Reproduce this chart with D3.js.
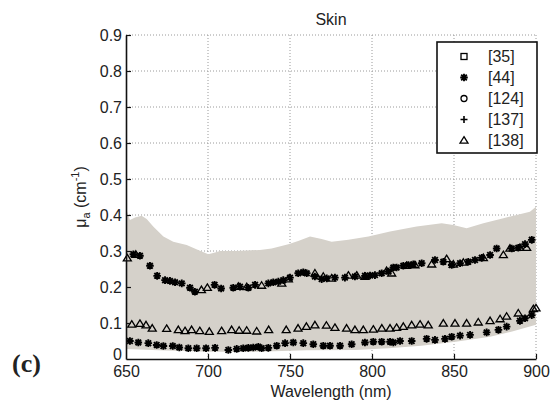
<!DOCTYPE html>
<html>
<head>
<meta charset="utf-8">
<script src="https://cdn.jsdelivr.net/npm/d3@7"></script>
<style>
  body { margin: 0; background: #fff; }
  text { font-family: Arial, "Liberation Sans", sans-serif; fill: #222; }
</style>
</head>
<body>
<div id="chart"></div>
<script>
var xTicks = [650, 700, 750, 800, 850, 900];
var yTicks = [0, 0.1, 0.2, 0.3, 0.4, 0.5, 0.6, 0.7, 0.8, 0.9];
var legendLabels = ["[35]", "[44]", "[124]", "[137]", "[138]"];
var legendSymbols = ["square", "asterisk", "circle", "plus", "triangle"];

// shaded range: [wavelength, value]
var bandUpper = [[650,0.419],[652.4,0.386],[655.5,0.393],[659.5,0.398],[662.6,0.389],[666.6,0.368],[672.8,0.34],[678.8,0.326],[687,0.317],[694,0.303],[700.2,0.291],[704.3,0.296],[707.3,0.3],[717.5,0.3],[731.7,0.303],[738.8,0.307],[749,0.319],[755,0.328],[762.2,0.34],[769.3,0.333],[775.4,0.326],[785.6,0.331],[797.8,0.34],[811,0.354],[827.2,0.368],[842.5,0.377],[849.6,0.372],[857.7,0.363],[867.9,0.377],[880.1,0.391],[888.2,0.4],[896.3,0.409],[900,0.423]];
var bandLower = [[650,0.028],[670,0.024],[700,0.02],[730,0.02],[760,0.024],[790,0.025],[810,0.03],[830,0.037],[851,0.048],[872,0.062],[886,0.077],[900,0.095]];

// series (nothing visible for [35], [124], [137])
var ref35 = [];
var ref124 = [];
var ref137 = [];
var ref44High = [[654.5,0.291],[658.5,0.287],[664.6,0.259],[669,0.231],[673.8,0.219],[676.8,0.217],[679.9,0.213],[684,0.21],[689,0.198],[692,0.187],[704,0.206],[708,0.196],[715.4,0.198],[719.5,0.201],[724.6,0.198],[728.7,0.206],[736.8,0.21],[739.8,0.213],[742.9,0.215],[745.9,0.219],[750,0.226],[755,0.238],[758.1,0.241],[760.2,0.238],[765.2,0.229],[769.3,0.222],[772.4,0.224],[777.4,0.226],[783.5,0.226],[789.6,0.229],[795.7,0.231],[798.8,0.232],[801.8,0.233],[805.9,0.238],[810,0.243],[813,0.254],[815,0.254],[819.1,0.259],[822.2,0.261],[825.2,0.263],[830.3,0.266],[838.4,0.275],[843.5,0.27],[848.6,0.261],[853.7,0.266],[858.7,0.27],[862.8,0.275],[866.9,0.281],[872,0.289],[876,0.307],[885.2,0.307],[889.2,0.309],[893.3,0.319],[897.4,0.331]];
var ref44Low = [[652.4,0.05],[657.5,0.046],[663.6,0.044],[668.7,0.039],[672.8,0.036],[678.5,0.036],[682.5,0.032],[688,0.03],[693.1,0.03],[698.8,0.03],[704.3,0.031],[712.4,0.025],[717.5,0.028],[721.5,0.03],[724.6,0.031],[727.6,0.032],[730.7,0.034],[732.7,0.03],[736.8,0.031],[741.9,0.037],[747,0.044],[752,0.046],[758.1,0.044],[764.2,0.041],[770.3,0.037],[774.4,0.037],[780.5,0.037],[787.6,0.041],[795.7,0.046],[800.8,0.048],[805.9,0.048],[811,0.048],[813,0.046],[817.1,0.05],[824.2,0.05],[833.3,0.056],[838.4,0.053],[844.5,0.056],[848.6,0.062],[853.7,0.065],[859.8,0.067],[869.9,0.074],[877.1,0.081],[882.1,0.09],[890.2,0.106],[893.3,0.113],[897.4,0.122]];
var ref138High = [[650.8,0.28],[656,0.29],[696,0.192],[699.6,0.198],[718.5,0.201],[723.6,0.2],[732.7,0.204],[745,0.21],[749,0.222],[765.2,0.238],[770.3,0.229],[775.4,0.224],[785.6,0.232],[790.7,0.232],[795.7,0.229],[808.9,0.245],[812,0.238],[821.1,0.259],[826.2,0.261],[836.4,0.263],[845.5,0.278],[849.6,0.263],[855.7,0.268],[867.9,0.281],[880.1,0.289],[884.1,0.307],[890.2,0.309],[894.3,0.309]];
var ref138Low = [[653.5,0.096],[658.5,0.098],[662.2,0.094],[666,0.085],[674.8,0.084],[681.9,0.081],[686,0.078],[690,0.081],[695,0.078],[700.8,0.076],[708.3,0.078],[714.4,0.081],[719,0.079],[723.6,0.079],[729.7,0.077],[737,0.081],[747.7,0.081],[754.9,0.085],[760,0.09],[765.2,0.094],[772.2,0.093],[777.4,0.087],[784.5,0.085],[789.6,0.081],[794.7,0.081],[800.8,0.082],[806,0.085],[811,0.085],[815,0.087],[819.1,0.09],[824.2,0.094],[829.3,0.096],[834.3,0.094],[843.5,0.099],[850.6,0.099],[857.7,0.099],[864.8,0.102],[872,0.106],[878.1,0.111],[882.1,0.118],[889.2,0.127],[898.4,0.139],[900,0.141]];

var width = 551, height = 413;
var margin = { top: 35, right: 15, bottom: 54, left: 126 };
var innerW = width - margin.left - margin.right;
var innerH = height - margin.top - margin.bottom;

var svg = d3.select('#chart')
    .append('svg')
        .attr('width', width)
        .attr('height', height);

var g = svg.append('g')
    .attr('transform', 'translate(' + margin.left + ',' + margin.top + ')');

var xScale = d3.scaleLinear().domain([650, 900]).range([0, innerW]);
var yScale = d3.scaleLinear().domain([0, 0.9]).range([innerH, 0]);

// grid (dotted, under the band)
g.selectAll('.vgrid')
    .data(xTicks.slice(1))
    .enter().append('line')
    .attr('x1', function(d) { return xScale(d); })
    .attr('x2', function(d) { return xScale(d); })
    .attr('y1', 0).attr('y2', innerH)
    .attr('stroke', '#9a9a9a').attr('stroke-dasharray', '1,2');

g.selectAll('.hgrid')
    .data(yTicks.slice(1))
    .enter().append('line')
    .attr('x1', 0).attr('x2', innerW)
    .attr('y1', function(d) { return yScale(d); })
    .attr('y2', function(d) { return yScale(d); })
    .attr('stroke', '#9a9a9a').attr('stroke-dasharray', '1,2');

// shaded range
var bandPts = bandUpper.concat(bandLower.slice().reverse());
g.append('path')
    .datum(bandPts)
    .attr('fill', '#d5d1ca')
    .attr('stroke', 'none')
    .attr('d', d3.line()
        .x(function(d) { return xScale(d[0]); })
        .y(function(d) { return yScale(d[1]); }));

// marker shapes
function marker(sel, type) {
    if (type === 'asterisk') {
        sel.append('path')
            .attr('d', 'M-3.8,0H3.8M0,-3.8V3.8M-2.8,-2.8L2.8,2.8M-2.8,2.8L2.8,-2.8')
            .attr('stroke', '#000').attr('stroke-width', 1.9).attr('fill', 'none');
    } else if (type === 'triangle') {
        sel.append('path')
            .attr('d', 'M0,-3.8L4,2.7L-4,2.7Z')
            .attr('stroke', '#000').attr('stroke-width', 1.3).attr('fill', 'none');
    } else if (type === 'square') {
        sel.append('rect')
            .attr('x', -3).attr('y', -3).attr('width', 6).attr('height', 6)
            .attr('stroke', '#000').attr('stroke-width', 1.3).attr('fill', 'none');
    } else if (type === 'circle') {
        sel.append('circle')
            .attr('r', 3)
            .attr('stroke', '#000').attr('stroke-width', 1.3).attr('fill', 'none');
    } else if (type === 'plus') {
        sel.append('path')
            .attr('d', 'M-3.5,0H3.5M0,-3.5V3.5')
            .attr('stroke', '#000').attr('stroke-width', 1.6).attr('fill', 'none');
    }
}

function plotSeries(data, type) {
    g.append('g').selectAll('g')
        .data(data)
        .enter().append('g')
        .attr('transform', function(d) {
            return 'translate(' + xScale(d[0]) + ',' + yScale(d[1]) + ')';
        })
        .each(function() { marker(d3.select(this), type); });
}

plotSeries(ref35, 'square');
plotSeries(ref124, 'circle');
plotSeries(ref137, 'plus');
plotSeries(ref138High, 'triangle');
plotSeries(ref138Low, 'triangle');
plotSeries(ref44High, 'asterisk');
plotSeries(ref44Low, 'asterisk');

// axes (ticks pointing inward)
var xAxis = d3.axisBottom(xScale)
    .tickValues(xTicks)
    .tickFormat(d3.format('d'))
    .tickSizeInner(-5)
    .tickSizeOuter(0)
    .tickPadding(7);
var xg = g.append('g')
    .attr('class', 'x axis')
    .attr('transform', 'translate(0,' + innerH + ')')
    .call(xAxis);

var yAxis = d3.axisLeft(yScale)
    .tickValues(yTicks)
    .tickFormat(function(d) { return d === 0 ? '0' : d3.format('.1f')(d); })
    .tickSizeInner(-5)
    .tickSizeOuter(0)
    .tickPadding(4);
var yg = g.append('g')
    .attr('class', 'y axis')
    .call(yAxis);

[xg, yg].forEach(function(a) {
    a.select('.domain').attr('stroke', '#111').attr('stroke-width', 1.6);
    a.selectAll('.tick line').attr('stroke', '#111').attr('stroke-width', 1.2);
    a.selectAll('.tick text')
        .style('font-family', 'Arial, "Liberation Sans", sans-serif')
        .style('font-size', '16px')
        .attr('fill', '#222');
});
// hide the tick marks at the corner, lift the "0" clear of "650"
xg.selectAll('.tick line').filter(function(d) { return d === 650; }).remove();
yg.selectAll('.tick line').filter(function(d) { return d === 0; }).remove();
yg.selectAll('.tick text').filter(function(d) { return d === 0; }).attr('y', -5);

// title
svg.append('text')
    .attr('x', margin.left + innerW / 2)
    .attr('y', 25)
    .attr('text-anchor', 'middle')
    .style('font-size', '16px')
    .text('Skin');

// x axis label
svg.append('text')
    .attr('x', margin.left + innerW / 2)
    .attr('y', 397)
    .attr('text-anchor', 'middle')
    .style('font-size', '16px')
    .text('Wavelength (nm)');

// y axis label
var yl = svg.append('text')
    .attr('transform', 'translate(86,' + (margin.top + innerH / 2) + ') rotate(-90)')
    .attr('text-anchor', 'middle')
    .style('font-size', '16px');
yl.append('tspan').text('\u03bc');
yl.append('tspan').attr('dy', 4).style('font-size', '11px').text('a');
yl.append('tspan').attr('dy', -4).text(' (cm');
yl.append('tspan').attr('dy', -7).style('font-size', '11px').text('-1');
yl.append('tspan').attr('dy', 7).text(')');

// panel letter
svg.append('text')
    .attr('x', 12)
    .attr('y', 372)
    .style('font-family', '"Liberation Serif", "Times New Roman", serif')
    .style('font-weight', 'bold')
    .style('font-size', '26px')
    .attr('fill', '#000')
    .text('(c)');

// legend
var legend = svg.append('g').attr('transform', 'translate(437,42)');
legend.append('rect')
    .attr('width', 100).attr('height', 111)
    .attr('fill', '#fff')
    .attr('stroke', '#111').attr('stroke-width', 1.6);

legendLabels.forEach(function(label, i) {
    var row = legend.append('g').attr('transform', 'translate(0,' + (14.5 + i * 21) + ')');
    marker(row.append('g').attr('transform', 'translate(27,0)'), legendSymbols[i]);
    row.append('text')
        .attr('x', 51)
        .attr('dy', '0.35em')
        .style('font-size', '16px')
        .text(label);
});
</script>
</body>
</html>
